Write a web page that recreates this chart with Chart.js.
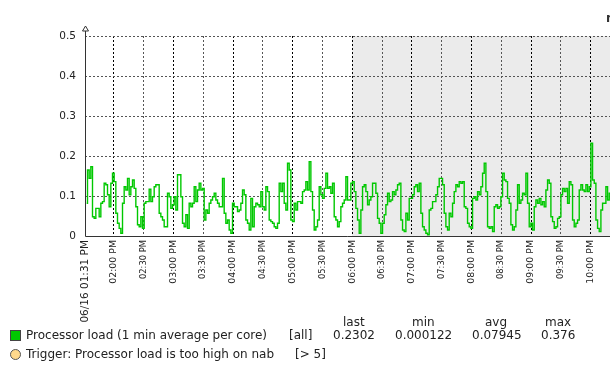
<!DOCTYPE html>
<html>
<head>
<meta charset="utf-8">
<script src="https://cdn.jsdelivr.net/npm/chart.js@4.4.1/dist/chart.umd.min.js"></script>
<style>
body { margin: 0; background: #fff; overflow: hidden; }
#wrap { position: relative; width: 610px; height: 367px; font-family: 'DejaVu Sans'; color: #222; overflow: hidden; }
canvas { position: absolute; left: 0; top: 0; }
.t { position: absolute; font-size: 12px; line-height: 14px; white-space: nowrap; }
.box { position: absolute; width: 11px; height: 11px; box-sizing: border-box; }
</style>
</head>
<body>
<div id="wrap">
  <canvas id="graph" width="610" height="367"></canvas>
  <span class="t" style="left:606px;top:11px;font-weight:bold;color:#333">nab: Processor load</span>

  <span class="t" style="left:343px;top:315px">last</span>
  <span class="t" style="left:412px;top:315px">min</span>
  <span class="t" style="left:485px;top:315px">avg</span>
  <span class="t" style="left:545px;top:315px">max</span>

  <div class="box" style="left:10px;top:330px;background:#00c800;border:1px solid #444"></div>
  <span class="t" style="left:26px;top:328px">Processor load (1 min average per core)</span>
  <span class="t" style="left:289px;top:328px">[all]</span>
  <span class="t" style="left:333px;top:328px">0.2302</span>
  <span class="t" style="left:395px;top:328px">0.000122</span>
  <span class="t" style="left:472px;top:328px">0.07945</span>
  <span class="t" style="left:541px;top:328px">0.376</span>

  <div class="box" style="left:10px;top:349px;background:#ffd98c;border:1px solid #555;border-radius:50%"></div>
  <span class="t" style="left:26px;top:347px">Trigger: Processor load is too high on nab</span>
  <span class="t" style="left:295px;top:347px">[&gt; 5]</span>
</div>
<script>
// minutes since 06/16 01:31 PM
const tickMinutes = [0, 29, 59, 89, 119, 149, 179, 209, 239, 269, 299, 329, 359, 389, 419, 449, 479, 509];
const tickLabels = ['06/16 01:31 PM', '02:00 PM', '02:30 PM', '03:00 PM', '03:30 PM', '04:00 PM', '04:30 PM',
  '05:00 PM', '05:30 PM', '06:00 PM', '06:30 PM', '07:00 PM', '07:30 PM', '08:00 PM', '08:30 PM',
  '09:00 PM', '09:30 PM', '10:00 PM'];
const periodEndMin = 528.5;
const offHoursFromMin = 269; // 06:00 PM, non-working time is shaded

const sampleStartMin = 1.68;
const sampleStepMin = 1.678;
const loadValues = [
  0.082,0.165,0.144,0.173,0.048,0.044,0.069,0.069,0.048,0.082,
  0.086,0.132,0.128,0.103,0.073,0.132,0.157,0.136,0.057,0.032,
  0.019,0.007,0.082,0.123,0.115,0.144,0.103,0.123,0.14,0.119,
  0.073,0.028,0.023,0.048,0.019,0.082,0.086,0.086,0.117,0.086,
  0.098,0.123,0.128,0.128,0.057,0.048,0.04,0.023,0.023,0.107,
  0.098,0.069,0.078,0.098,0.065,0.153,0.153,0.098,0.032,0.023,
  0.053,0.019,0.082,0.073,0.082,0.123,0.086,0.115,0.132,0.115,
  0.119,0.04,0.065,0.057,0.082,0.09,0.098,0.107,0.09,0.082,
  0.073,0.073,0.144,0.057,0.032,0.04,0.015,0.007,0.082,0.073,
  0.073,0.061,0.065,0.082,0.115,0.103,0.04,0.032,0.015,0.094,
  0.023,0.073,0.082,0.078,0.073,0.111,0.073,0.065,0.123,0.111,
  0.04,0.036,0.032,0.023,0.019,0.032,0.132,0.111,0.132,0.082,
  0.065,0.182,0.165,0.04,0.036,0.082,0.065,0.086,0.086,0.082,
  0.111,0.115,0.136,0.115,0.186,0.111,0.065,0.015,0.023,0.04,
  0.123,0.103,0.094,0.119,0.157,0.119,0.123,0.107,0.132,0.048,
  0.04,0.023,0.036,0.073,0.082,0.09,0.148,0.09,0.09,0.132,
  0.136,0.111,0.069,0.04,0.007,
  0.065,0.123,0.128,0.111,0.078,0.09,0.098,0.132,0.132,0.107,
  0.044,0.032,0.007,0.032,0.053,0.078,0.107,0.086,0.09,0.111,
  0.103,0.115,0.128,0.132,0.04,0.015,0.011,0.057,0.04,0.094,
  0.094,0.103,0.123,0.128,0.111,0.132,0.057,0.023,0.015,0.007,
  0.003,0.065,0.069,0.086,0.086,0.103,0.123,0.144,0.144,0.128,
  0.057,0.023,0.015,0.057,0.048,0.082,0.111,0.128,0.123,0.136,
  0.132,0.136,0.073,0.069,0.032,0.023,0.019,0.094,0.098,0.09,
  0.111,0.103,0.123,0.157,0.182,0.111,0.023,0.019,0.023,0.011,
  0.073,0.078,0.069,0.073,0.098,0.157,0.14,0.136,0.094,0.082,
  0.028,0.015,0.023,0.065,0.128,0.082,0.09,0.107,0.103,0.157,
  0.082,0.023,0.032,0.015,0.073,0.09,0.082,0.094,0.078,0.086,
  0.073,0.115,0.14,0.132,0.048,0.036,0.019,0.023,0.044,0.048,
  0.103,0.119,0.111,0.119,0.082,0.136,0.128,0.04,0.023,0.032,
  0.04,0.115,0.128,0.115,0.111,0.128,0.111,0.123,0.232,0.14,
  0.132,0.04,0.019,0.011,0.065,0.082,0.082,0.123,0.09,0.107
];

const points = loadValues.map((v, i) => ({ x: sampleStartMin + i * sampleStepMin, y: v }));

// shaded off-hours, axis lines and the little arrow on top of the y axis
const zabbixFrame = {
  id: 'zabbixFrame',
  beforeDraw(chart) {
    const { ctx, chartArea: a, scales: { x } } = chart;
    const x0 = Math.round(x.getPixelForValue(offHoursFromMin));
    ctx.save();
    ctx.fillStyle = '#ebebeb';
    ctx.fillRect(x0, a.top, a.right - x0, a.bottom - a.top);
    ctx.restore();
  },
  afterDatasetsDraw(chart) {
    const { ctx, chartArea: a } = chart;
    const l = Math.round(a.left) + 0.5, b = Math.round(a.bottom) + 0.5;
    ctx.save();
    ctx.strokeStyle = '#333';
    ctx.lineWidth = 1;
    ctx.beginPath();
    ctx.moveTo(l, a.top - 5);
    ctx.lineTo(l, b);
    ctx.lineTo(a.right, b);
    ctx.stroke();
    ctx.fillStyle = '#fff';
    ctx.beginPath();
    ctx.moveTo(l, a.top - 10);
    ctx.lineTo(l - 3, a.top - 5);
    ctx.lineTo(l + 3, a.top - 5);
    ctx.closePath();
    ctx.fill();
    ctx.stroke();
    ctx.restore();
  }
};

new Chart(document.getElementById('graph'), {
  type: 'line',
  data: {
    datasets: [{
      label: 'Processor load (1 min average per core)',
      data: points,
      borderColor: '#00c800',
      backgroundColor: '#00c800',
      borderWidth: 1.4,
      pointRadius: 0,
      stepped: 'middle'
    }]
  },
  options: {
    responsive: false,
    animation: false,
    layout: { padding: { top: 36, left: 0, right: 0, bottom: 0 } },
    plugins: { legend: { display: false }, tooltip: { enabled: false } },
    scales: {
      x: {
        type: 'linear',
        min: 0,
        max: periodEndMin,
        afterBuildTicks: s => { s.ticks = tickMinutes.map(v => ({ value: v })); },
        afterFit: s => { s.height = 131; },
        border: { display: false, dash: [2, 2] },
        grid: {
          drawTicks: false,
          color: c => c.index === 0 ? 'rgba(0,0,0,0)' : (c.index % 2 === 1 ? '#000' : '#555')
        },
        ticks: {
          autoSkip: false,
          maxRotation: 90,
          minRotation: 90,
          padding: 4,
          color: '#222',
          font: c => ({ family: 'DejaVu Sans', size: c.index === 0 ? 10.5 : (c.index % 2 === 1 ? 9.4 : 8.4) }),
          callback: (v, i) => tickLabels[i]
        }
      },
      y: {
        min: 0,
        max: 0.5,
        afterFit: s => { s.width = 85; },
        border: { display: false, dash: [2, 2] },
        grid: {
          drawTicks: false,
          color: c => c.tick.value === 0 ? 'rgba(0,0,0,0)' : '#555'
        },
        ticks: {
          stepSize: 0.1,
          padding: 9,
          color: '#222',
          font: { family: 'DejaVu Sans', size: 10.5 }
        }
      }
    }
  },
  plugins: [zabbixFrame]
});
</script>
</body>
</html>
